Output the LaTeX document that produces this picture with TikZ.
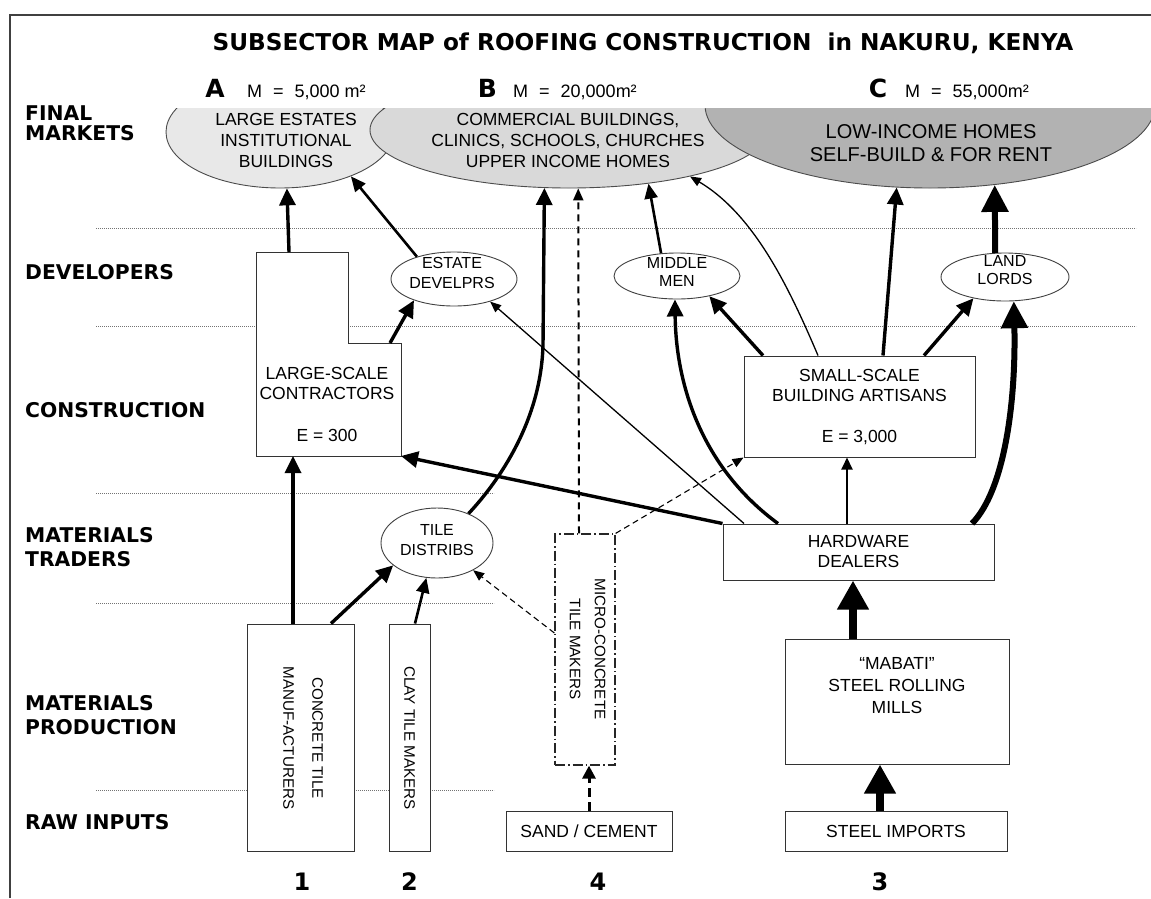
\documentclass[tikz,border=0pt]{standalone}
\usepackage{fontspec}
\setmainfont{Liberation Sans}
\newfontfamily\djv{DejaVu Sans}
\usetikzlibrary{arrows.meta,shapes.geometric}
\definecolor{gA}{gray}{0.91}
\definecolor{gB}{gray}{0.85}
\definecolor{gC}{gray}{0.70}
\newcommand\BodyF{\fontsize{17.5}{20}\selectfont}
\newcommand\SmallF{\fontsize{16}{20}\selectfont}
\newcommand\RotF{\fontsize{15.2}{27}\selectfont}
\newcommand\RowF{\djv\bfseries\fontsize{20.3}{24}\selectfont}
\newcommand\TitleF{\djv\bfseries\fontsize{23.2}{26}\selectfont}
\newcommand\LetF{\djv\bfseries\fontsize{25}{28}\selectfont}
\newcommand\NumF{\djv\bfseries\fontsize{24}{28}\selectfont}
\newcommand\MlabF{\fontsize{18}{20}\selectfont}
\newcommand\CtxtF{\fontsize{20}{23}\selectfont}
\begin{document}
\begin{tikzpicture}[x=1pt,y=-1pt,
  boxline/.style={draw=black!80, line width=1pt},
  box/.style={boxline, fill=white, inner sep=0pt, align=center, font=\BodyF},
  inv/.style={inner sep=0pt, outer sep=0pt},
  ell/.style={ellipse, draw=black!70, line width=0.9pt, inner sep=0pt},
  oval/.style={ellipse, draw=black!75, line width=0.9pt, fill=white, inner sep=0pt},
  txt/.style={inner sep=0pt, align=center, font=\BodyF},
  stxt/.style={inner sep=0pt, align=center, font=\SmallF},
  rtxt/.style={inner sep=0pt, align=center, font=\RotF, rotate=-90},
  rowlab/.style={anchor=west, align=left, inner sep=0pt, font=\RowF},
  num/.style={inner sep=0pt, font=\NumF},
  dotline/.style={draw=black!55, line width=0.8pt, dash pattern=on 0.8pt off 1.2pt},
  arrthin/.style={line width=1.3pt, -{Triangle[width=9pt,length=11pt]}},
  arrmid/.style={line width=2pt, -{Triangle[width=11pt,length=12pt]}},
  arrmed/.style={line width=2.6pt, -{Triangle[width=13pt,length=15pt]}},
  arrthick/.style={line width=3.4pt, -{Triangle[width=16pt,length=17pt]}},
  arrheavy/.style={line width=6pt, -{Triangle[width=26pt,length=27pt]}},
  arrhuge/.style={line width=8pt, -{Triangle[width=30pt,length=29pt]}},
  dashthin/.style={line width=1.1pt, dash pattern=on 6pt off 4pt, -{Triangle[width=9pt,length=11pt]}},
  dashmid/.style={line width=2pt, dash pattern=on 7pt off 5pt, -{Triangle[width=10pt,length=12pt]}},
  dashthick/.style={line width=3pt, dash pattern=on 9pt off 5pt, -{Triangle[width=13pt,length=13pt]}},
  dashdot/.style={draw=black!85, line width=1.2pt, dash pattern=on 10pt off 3pt on 1.5pt off 3pt}
]
\useasboundingbox (0,0) rectangle (1151,898);
\fill[white] (0,0) rectangle (1151,898);
% frame
\draw[line width=1.5pt, black!75] (10,898) -- (10,15) -- (1151,15);
% dotted separators
\draw[dotline] (96,228) -- (1136,228);
\draw[dotline] (96,326) -- (1136,326);
\draw[dotline] (96,493) -- (494,493);
\draw[dotline] (96,603) -- (494,603);
\draw[dotline] (96,790) -- (494,790);
% title
\node[font=\TitleF, inner sep=0pt] (title) at (643,43) {SUBSECTOR MAP of ROOFING CONSTRUCTION\ \ in NAKURU, KENYA};
% row labels
\node[rowlab, font=\djv\bfseries\fontsize{20.3}{20}\selectfont] (r1) at (25,123) {FINAL\\MARKETS};
\node[rowlab] (r2) at (25,272) {DEVELOPERS};
\node[rowlab] (r3) at (25,410) {CONSTRUCTION};
\node[rowlab] (r4) at (25,547) {MATERIALS\\TRADERS};
\node[rowlab] (r5) at (25,715) {MATERIALS\\PRODUCTION};
\node[rowlab] (r6) at (25,822) {RAW INPUTS};
% market letters
\node[font=\LetF, anchor=base, inner sep=0pt] (la) at (215,97.5) {A};
\node[font=\MlabF, anchor=base west, inner sep=0pt] (ma) at (247,97.5) {M\hspace{11pt}=\hspace{11pt}5,000 m²};
\node[font=\LetF, anchor=base, inner sep=0pt] (lb) at (487.5,97.5) {B};
\node[font=\MlabF, anchor=base west, inner sep=0pt] (mb) at (513,97.5) {M\hspace{11pt}=\hspace{11pt}20,000m²};
\node[font=\LetF, anchor=base, inner sep=0pt] (lc) at (878,97.5) {C};
\node[font=\MlabF, anchor=base west, inner sep=0pt] (mc) at (905,97.5) {M\hspace{11pt}=\hspace{11pt}55,000m²};
% final markets ellipses
\begin{scope}
\clip (0,108) rectangle (1151,898);
\node[ell, fill=gA, minimum width=228pt, minimum height=112pt] (mA) at (280,132) {};
\node[ell, fill=gB, minimum width=398pt, minimum height=116pt] (mB) at (569,130) {};
\node[ell, fill=gC, minimum width=450pt, minimum height=166pt] (mC) at (930,105) {};
\end{scope}
\node[txt, font=\fontsize{17.5}{21}\selectfont] (tA) at (286,140) {LARGE ESTATES\\INSTITUTIONAL\\BUILDINGS};
\node[txt, font=\fontsize{17.5}{21}\selectfont] (tB) at (568,140) {COMMERCIAL BUILDINGS,\\CLINICS, SCHOOLS, CHURCHES\\UPPER INCOME HOMES};
\node[txt, font=\CtxtF] (tC) at (931,143.5) {LOW-INCOME HOMES\\SELF-BUILD \& FOR RENT};
% developers
\node[oval, minimum width=126pt, minimum height=54pt] (est) at (454,279) {};
\node[stxt] (estt) at (452,273) {ESTATE\\DEVELPRS};
\node[oval, minimum width=126pt, minimum height=46pt] (mm) at (677,276) {};
\node[stxt, font=\fontsize{16}{18}\selectfont] (mmt) at (677,272) {MIDDLE\\MEN};
\node[oval, minimum width=128pt, minimum height=48pt] (ll) at (1005,277) {};
\node[stxt, font=\fontsize{16}{18}\selectfont] (llt) at (1005,270.5) {LAND\\LORDS};
% construction
\node[inv, minimum width=92pt, minimum height=91pt] (lsu) at (302,297.5) {};
\node[inv, minimum width=145pt, minimum height=113pt] (lsc) at (328.5,399.5) {};
\draw[boxline, fill=white] (lsc.south west) -- (lsu.north west) -- (lsu.north east) -- (lsu.south east) -- (lsc.north east) -- (lsc.south east) -- cycle;
\node[txt] (lsct) at (327,404) {LARGE-SCALE\\CONTRACTORS\\[22pt]E = 300};
\node[box, minimum width=231pt, minimum height=101pt] (ssb) at (859.5,406.5) {SMALL-SCALE\\BUILDING ARTISANS\\[21pt]E = 3,000};
% traders
\node[oval, minimum width=112pt, minimum height=70pt] (td) at (437,543) {};
\node[stxt] (tdt) at (437,540) {TILE\\DISTRIBS};
\node[box, minimum width=271pt, minimum height=56pt] (hd) at (858.5,552) {HARDWARE\\DEALERS};
% production
\node[box, minimum width=107pt, minimum height=227pt] (ctm) at (300.5,737.5) {};
\node[rtxt, font=\fontsize{15.2}{29}\selectfont] (ctmt) at (303,738) {CONCRETE TILE\\MANUF-ACTURERS};
\node[box, minimum width=41pt, minimum height=227pt] (ctk) at (409.5,737.5) {};
\node[rtxt] (ctkt) at (409.5,738) {CLAY TILE MAKERS};
\node[dashdot, fill=white, inner sep=0pt, minimum width=60pt, minimum height=231pt] (mct) at (585,649.5) {};
\node[rtxt, font=\fontsize{15.2}{25}\selectfont] (mctt) at (587.5,649) {MICRO-CONCRETE\\TILE MAKERS};
\node[box, minimum width=224pt, minimum height=125pt] (mab) at (897,701.5) {};
\node[txt, font=\fontsize{17.5}{22}\selectfont] (mabt) at (897,686) {“MABATI”\\STEEL ROLLING\\MILLS};
% raw inputs
\node[box, minimum width=166pt, minimum height=40pt] (sc) at (589,831) {SAND / CEMENT};
\node[box, minimum width=222pt, minimum height=40pt] (si) at (896,831) {STEEL IMPORTS};
% numbers
\node[num] (n1) at (302,882) {1};
\node[num] (n2) at (409.5,882) {2};
\node[num] (n4) at (598,882) {4};
\node[num] (n3) at (880,882) {3};
% connectors
\coordinate (c4) at (543,345);
\draw[arrthick] ([xshift=-13pt]lsu.north) -- (mA.277);
\draw[arrmed] (est.149.4) -- (mA.328.6);
\draw[arrthick] ([xshift=-11pt]lsc.north east) -- (est.208.5);
\draw[arrthick] (td.43.3) .. controls (500,480) and (541,420) .. (c4) -- (mB.247.4);
\draw[dashmid] ([xshift=-6pt]mct.north) -- (mB.279.8);
\draw[arrmed] (mm.125.8) -- (mB.326);
\draw[arrthin] ([xshift=-41.5pt]ssb.north) .. controls (790,290) and (755,215) .. (mB.339.2);
\draw[arrthick] ([xshift=23.5pt]ssb.north) -- (mC.248.1);
\draw[arrheavy] (ll.112.9) -- (mC.309.3);
\draw[arrthick] ([xshift=-96.5pt]ssb.north) -- (mm.328.3);
\draw[arrthick] ([xshift=64.5pt]ssb.north) -- (ll.214.1);
\draw[arrthick] ([xshift=-80.5pt]hd.north) .. controls (705,470) and (676,390) .. (mm.265);
\draw[arrthin] ([xshift=-114.5pt]hd.north) -- (est.328.3);
\draw[arrthick] (hd.north west) -- (lsc.south east);
\draw[arrmid] ([xshift=-11.5pt]hd.north) -- ([xshift=-12.5pt]ssb.south);
\draw[arrheavy] ([xshift=113.5pt]hd.north) .. controls (1005,490) and (1016,400) .. (ll.290.7);
\draw[arrhuge] ([xshift=-44pt]mab.north) -- ([xshift=-5.5pt]hd.south);
\draw[arrhuge] ([xshift=-16pt]si.north) -- ([xshift=-17pt]mab.south);
\draw[dashthick] (sc.north) -- ([xshift=4pt]mct.south);
\draw[dashthin] (mct.north east) -- (ssb.south west);
\draw[dashthin] ([yshift=16.5pt]mct.west) -- (td.323.3);
\draw[arrthick] ([xshift=30.5pt]ctm.north) -- (td.207.5);
\draw[arrthick] ([xshift=-7.5pt]ctm.north) -- ([xshift=-35.5pt]lsc.south);
\draw[arrmed] ([xshift=5.5pt]ctk.north) -- (td.253.8);
\end{tikzpicture}
\end{document}
